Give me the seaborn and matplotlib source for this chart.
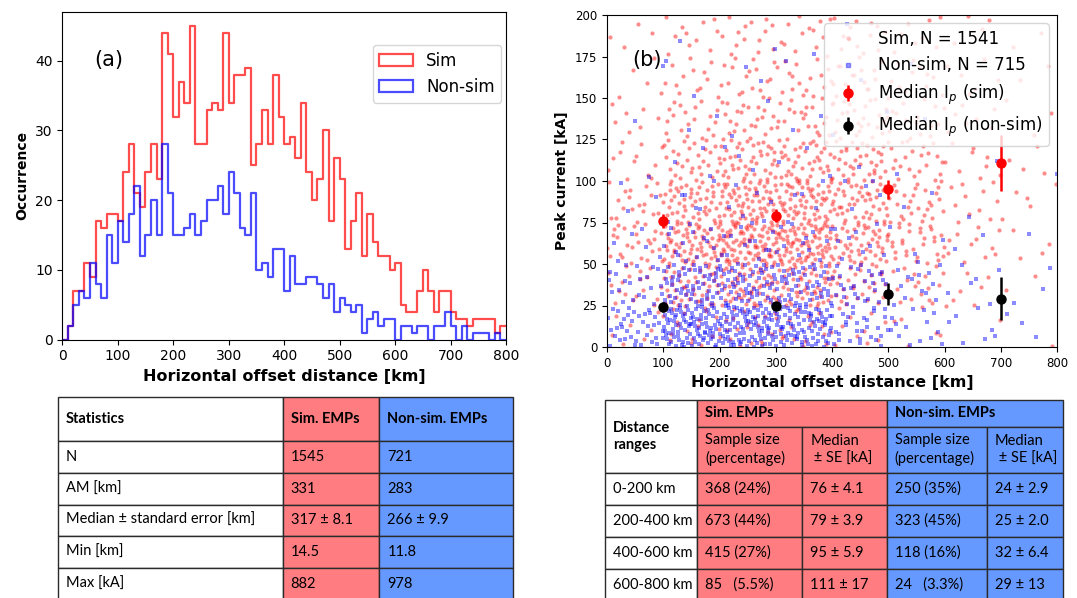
import numpy as np
import pandas as pd
import matplotlib
matplotlib.use("Agg")
import matplotlib.pyplot as plt
import seaborn as sns
from matplotlib.patches import Rectangle, Patch
from matplotlib.lines import Line2D

# ---------------- data ----------------
# (a) histogram: counts per 10 km bin, 0..800 km
bin_width_km = 10
sim_counts = [0, 2, 7, 7, 11, 9, 17, 16, 18, 18,
              17, 24, 28, 21, 19, 24, 28, 23, 44, 41,
              32, 37, 34, 45, 28, 28, 33, 34, 33, 44,
              34, 38, 38, 39, 25, 28, 33, 28, 38, 32,
              28, 29, 26, 34, 24, 20, 23, 30, 17, 26,
              23, 13, 17, 21, 12, 18, 14, 12, 12, 10,
              11, 5, 4, 4, 7, 10, 7, 4, 7, 7,
              4, 3, 3, 2, 3, 3, 3, 3, 1, 2]
nonsim_counts = [0, 2, 5, 7, 6, 11, 8, 6, 15, 11,
                 17, 14, 18, 22, 12, 15, 20, 15, 28, 21,
                 15, 15, 16, 18, 15, 17, 20, 20, 22, 18,
                 24, 21, 16, 15, 21, 10, 11, 9, 13, 13,
                 7, 12, 8, 8, 9, 9, 8, 6, 8, 4,
                 6, 5, 4, 5, 1, 3, 4, 2, 3, 3,
                 0, 2, 2, 1, 2, 2, 0, 2, 2, 4,
                 2, 0, 2, 0, 1, 1, 1, 0, 1, 0]

# (b) scatter density: points per cell
# columns: 100 km distance bands 0..800 ; rows: 25 kA current bands 0..200
dist_band_edges = [0, 100, 200, 300, 400, 500, 600, 700, 800]
current_band_edges = [0, 25, 50, 75, 100, 125, 150, 175, 200]
sim_cells = [
    [7, 18, 26, 19, 12, 7, 5, 4],
    [19, 46, 67, 48, 30, 19, 13, 11],
    [21, 56, 87, 66, 42, 24, 17, 14],
    [20, 53, 83, 63, 40, 23, 17, 13],
    [10, 31, 51, 46, 36, 26, 18, 13],
    [6, 18, 30, 27, 21, 15, 11, 8],
    [2, 6, 11, 11, 9, 7, 6, 4],
    [1, 2, 4, 5, 4, 3, 2, 2],
]
nonsim_cells = [
    [37, 21, 6, 3, 1, 1, 1, 0],
    [95, 55, 15, 6, 3, 2, 2, 1],
    [92, 53, 14, 6, 3, 2, 2, 1],
    [80, 46, 12, 5, 3, 2, 1, 1],
    [30, 28, 9, 4, 2, 2, 1, 1],
    [14, 13, 4, 2, 1, 1, 1, 0],
    [7, 6, 2, 1, 1, 0, 0, 0],
    [3, 3, 1, 0, 1, 0, 0, 0],
]

median_x = [100, 300, 500, 700]
sim_median = [76, 79, 95, 111]
sim_se = [4.1, 3.9, 5.9, 17]
nonsim_median = [24, 25, 32, 29]
nonsim_se = [2.9, 2.0, 6.4, 13]

# tables
stats_header = ["Statistics", "Sim. EMPs", "Non-sim. EMPs"]
stats_rows = ["N", "AM [km]", "Median \u00b1 standard error [km]", "Min [km]", "Max [kA]"]
stats_sim = ["1545", "331", "317 \u00b1 8.1", "14.5", "882"]
stats_nonsim = ["721", "283", "266 \u00b1 9.9", "11.8", "978"]

range_labels = ["0-200 km", "200-400 km", "400-600 km", "600-800 km"]
range_sim_size = ["368 (24%)", "673 (44%)", "415 (27%)", "85   (5.5%)"]
range_sim_median = ["76 \u00b1 4.1", "79 \u00b1 3.9", "95 \u00b1 5.9", "111 \u00b1 17"]
range_nonsim_size = ["250 (35%)", "323 (45%)", "118 (16%)", "24   (3.3%)"]
range_nonsim_median = ["24 \u00b1 2.9", "25 \u00b1 2.0", "32 \u00b1 6.4", "29 \u00b1 13"]

RED_FILL = "#FF7C80"
BLUE_FILL = "#6699FF"

# ---------------- helpers ----------------
def radical_inverse(i, base):
    f, r = 1.0, 0.0
    while i > 0:
        f /= base
        r += f * (i % base)
        i //= base
    return r


def cells_to_points(cells, xe, ye, start):
    """spread the counted points of each cell evenly inside that cell"""
    xs, ys = [], []
    k = start
    for i, col in enumerate(cells):
        for j, n in enumerate(col):
            for _ in range(n):
                k += 1
                xs.append(xe[i] + (xe[i + 1] - xe[i]) * radical_inverse(k, 2))
                ys.append(ye[j] + (ye[j + 1] - ye[j]) * radical_inverse(k, 3))
    return pd.DataFrame({"dist": xs, "ip": ys})


# ---------------- figure ----------------
W, H = 1077, 598
fig = plt.figure(figsize=(W / 100, H / 100), dpi=100)

ax1 = fig.add_axes([62.3 / W, 1 - 339.5 / H, 443.7 / W, (339.5 - 12) / H])
ax2 = fig.add_axes([607 / W, 1 - 347 / H, 450 / W, (347 - 15) / H])

# (a) histogram
n_bins = len(sim_counts)
centers = [bin_width_km * (i + 0.5) for i in range(n_bins)]
df_hist_sim = pd.DataFrame({"dist": centers, "count": sim_counts})
df_hist_non = pd.DataFrame({"dist": centers, "count": nonsim_counts})
sns.histplot(data=df_hist_sim, x="dist", weights="count", binwidth=bin_width_km,
             binrange=(0, bin_width_km * n_bins), element="step", fill=False,
             color="red", alpha=0.7, linewidth=1.6, ax=ax1)
sns.histplot(data=df_hist_non, x="dist", weights="count", binwidth=bin_width_km,
             binrange=(0, bin_width_km * n_bins), element="step", fill=False,
             color="blue", alpha=0.7, linewidth=1.6, ax=ax1)
ax1.set_xlim(0, 800)
ax1.set_ylim(0, 47)
ax1.set_yticks([0, 10, 20, 30, 40])
ax1.set_xticks(range(0, 801, 100))
ax1.tick_params(labelsize=10)
ax1.set_xlabel("Horizontal offset distance [km]", fontsize=11.5, fontweight="bold")
ax1.set_ylabel("Occurrence", fontsize=10, fontweight="bold")
ax1.text(0.105, 0.853, "(a)", transform=ax1.transAxes, fontsize=15, ha="center", va="center")
h_leg = [Patch(facecolor="none", edgecolor="red", alpha=0.7, linewidth=1.6),
         Patch(facecolor="none", edgecolor="blue", alpha=0.7, linewidth=1.6)]
ax1.legend(h_leg, ["Sim", "Non-sim"], loc="upper right", fontsize=12,
           bbox_to_anchor=(1.008, 0.925))

# (b) scatter
df_sim = cells_to_points(sim_cells, dist_band_edges, current_band_edges, 17)
df_non = cells_to_points(nonsim_cells, dist_band_edges, current_band_edges, 3001)
sns.scatterplot(data=df_sim, x="dist", y="ip", color="red", marker="o", s=9,
                alpha=0.45, linewidth=0, ax=ax2)
sns.scatterplot(data=df_non, x="dist", y="ip", color="blue", marker="s", s=9,
                alpha=0.45, linewidth=0, ax=ax2)
eb1 = ax2.errorbar(median_x, sim_median, yerr=sim_se, fmt="o", color="red",
                   ms=6.5, elinewidth=1.8, capsize=0, zorder=5)
eb2 = ax2.errorbar(median_x, nonsim_median, yerr=nonsim_se, fmt="o", color="black",
                   ms=6.5, elinewidth=1.8, capsize=0, zorder=5)
ax2.set_xlim(0, 800)
ax2.set_ylim(0, 200)
ax2.set_xticks(range(0, 801, 100))
ax2.set_yticks(range(0, 201, 25))
ax2.tick_params(labelsize=8.5)
ax2.set_xlabel("Horizontal offset distance [km]", fontsize=11.5, fontweight="bold")
ax2.set_ylabel("Peak current [kA]", fontsize=10, fontweight="bold")
ax2.text(0.09, 0.864, "(b)", transform=ax2.transAxes, fontsize=15, ha="center", va="center")
s_h1 = Line2D([], [], ls="", marker="o", color="red", alpha=0.12, ms=2.5)
s_h2 = Line2D([], [], ls="", marker="s", color="blue", alpha=0.4, ms=2.5)
ax2.legend([s_h1, s_h2, eb1, eb2],
           ["Sim, N = 1541", "Non-sim, N = 715", "Median I$_p$ (sim)", "Median I$_p$ (non-sim)"],
           loc="upper right", fontsize=12)

# ---------------- tables ----------------
tab = fig.add_axes([0, 0, 1, 1])
tab.set_xlim(0, W)
tab.set_ylim(H, 0)
tab.axis("off")
tab.patch.set_alpha(0)
TF = ["Lato", "DejaVu Sans"]
FS = 10.5
EC = "#2b2b2b"


def cell(x0, x1, y0, y1, color, text="", bold=False, pad=8, lsp=1.3):
    tab.add_patch(Rectangle((x0, y0), x1 - x0, y1 - y0, facecolor=color,
                            edgecolor=EC, linewidth=1.0, clip_on=False))
    if text:
        tab.text(x0 + pad, (y0 + y1) / 2, text, ha="left", va="center",
                 fontsize=FS, family=TF, fontweight="bold" if bold else "normal",
                 linespacing=lsp)


# left table
lx = [57.7, 282.7, 379.3, 513.3]
ly = [397, 441, 473, 504.5, 536, 568, 600]
fills = ["white", RED_FILL, BLUE_FILL]
for c in range(3):
    cell(lx[c], lx[c + 1], ly[0], ly[1], fills[c], stats_header[c], bold=True)
cols_left = [stats_rows, stats_sim, stats_nonsim]
for r in range(5):
    for c in range(3):
        cell(lx[c], lx[c + 1], ly[r + 1], ly[r + 2], fills[c], cols_left[c][r])

# right table
rx = [605, 697.3, 802.3, 886.7, 986.7, 1062.7]
ry = [400, 426.7, 472.7, 505, 536.7, 569, 601]
cell(rx[0], rx[1], ry[0], ry[2], "white", "Distance\nranges", bold=True, lsp=1.25)
cell(rx[1], rx[3], ry[0], ry[1], RED_FILL, "Sim. EMPs", bold=True)
cell(rx[3], rx[5], ry[0], ry[1], BLUE_FILL, "Non-sim. EMPs", bold=True)
sub_heads = ["Sample size\n(percentage)", "Median\n \u00b1 SE [kA]",
             "Sample size\n(percentage)", "Median\n \u00b1 SE [kA]"]
sub_fill = [RED_FILL, RED_FILL, BLUE_FILL, BLUE_FILL]
for c in range(4):
    cell(rx[c + 1], rx[c + 2], ry[1], ry[2], sub_fill[c], sub_heads[c])
cols_right = [range_labels, range_sim_size, range_sim_median, range_nonsim_size, range_nonsim_median]
fills_r = ["white", RED_FILL, RED_FILL, BLUE_FILL, BLUE_FILL]
for r in range(4):
    for c in range(5):
        cell(rx[c], rx[c + 1], ry[r + 2], ry[r + 3], fills_r[c], cols_right[c][r])

fig.savefig("out.png", dpi=100)
